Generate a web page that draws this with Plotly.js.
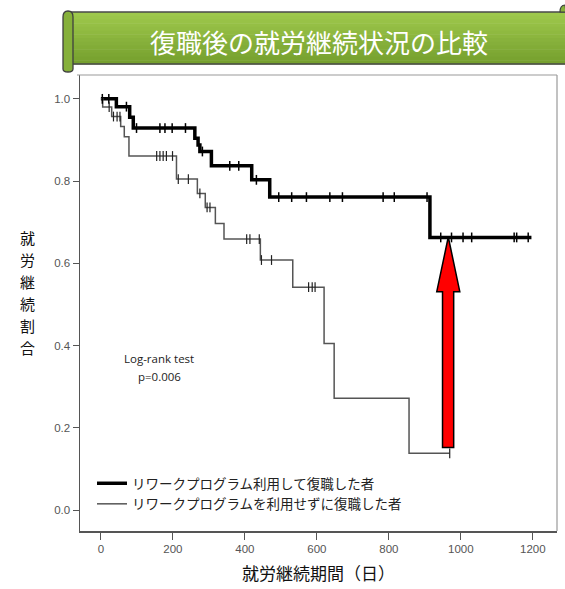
<!DOCTYPE html>
<html><head><meta charset="utf-8">
<script src="https://cdn.plot.ly/plotly-3.0.1.min.js"></script>
<style>html,body{margin:0;padding:0;background:#fff}#chart{width:565px;height:589px}</style>
</head><body><div id="chart"></div>
<script>
const titleText = "復職後の就労継続状況の比較";
const xTitle = "就労継続期間（日）";
const yTitle = "就労継続割合";
const seriesNames = ["リワークプログラム利用して復職した者", "リワークプログラムを利用せずに復職した者"];
const testLabel = "Log-rank test";
const pLabel = "p=0.006";

// Kaplan-Meier steps (day, survival)
const programDays = [0, 43, 80, 90, 261, 270, 275, 307, 419, 469, 914, 1196];
const programSurv = [1.0, 0.981, 0.955, 0.929, 0.904, 0.888, 0.872, 0.837, 0.803, 0.761, 0.663, 0.663];
const programCensorDays = [4, 22, 71, 99, 164, 178, 198, 235, 282, 358, 383, 432, 494, 530, 571, 636, 671, 784, 815, 906, 944, 974, 1006, 1030, 1148, 1155, 1187];

const noProgramDays = [0, 5, 30, 55, 65, 78, 210, 268, 290, 318, 342, 443, 533, 620, 648, 856, 969];
const noProgramSurv = [1.0, 0.98, 0.957, 0.933, 0.908, 0.861, 0.805, 0.77, 0.736, 0.697, 0.659, 0.608, 0.542, 0.405, 0.272, 0.138, 0.138];
const noProgramCensorDays = [23, 35, 45, 53, 155, 164, 173, 182, 199, 215, 243, 275, 295, 303, 405, 414, 440, 446, 474, 577, 587, 595, 969];

const xTicks = [0, 200, 400, 600, 800, 1000, 1200];
const yTicks = [0, 0.2, 0.4, 0.6, 0.8, 1.0];

function stepValue(days, surv, d) {
  let v = surv[0];
  for (let i = 0; i < days.length; i++) { if (days[i] <= d) v = surv[i]; }
  return v;
}

// pixel -> paper helpers for decoration
const L = 80, R = 557, T = 75, B = 531;
const px = p => (p - L) / (R - L);
const py = p => (B - p) / (B - T);

const traces = [
  {x: programDays, y: programSurv, mode: 'lines', line: {shape: 'hv', color: '#000', width: 3.5},
   name: seriesNames[0], hoverinfo: 'skip'},
  {x: noProgramDays, y: noProgramSurv, mode: 'lines', line: {shape: 'hv', color: '#555', width: 1.5},
   name: seriesNames[1], hoverinfo: 'skip'},
  {x: programCensorDays, y: programCensorDays.map(d => stepValue(programDays, programSurv, d)),
   mode: 'markers', showlegend: false, hoverinfo: 'skip',
   marker: {symbol: 'line-ns', size: 7, line: {color: '#000', width: 1.5}}},
  {x: noProgramCensorDays, y: noProgramCensorDays.map(d => stepValue(noProgramDays, noProgramSurv, d)),
   mode: 'markers', showlegend: false, hoverinfo: 'skip',
   marker: {symbol: 'line-ns', size: 7, line: {color: '#222', width: 1.2}}}
];

// banner decoration
const bTop = 12, bBot = 64, bLeft = 68, bRight = 565;
const shapes = [
  {type: 'line', xref: 'paper', yref: 'paper', x0: 1, x1: 1, y0: 0, y1: 1, line: {color: '#999', width: 1.2}},
  {type: 'line', xref: 'paper', yref: 'paper', x0: px(77), x1: 1, y0: 1, y1: 1, line: {color: '#999', width: 1.2}}
];
const nStrips = 14;
const c0 = [158, 200, 76], c1 = [118, 160, 46];
for (let i = 0; i < nStrips; i++) {
  const t = i / (nStrips - 1);
  const c = c0.map((v, k) => Math.round(v + (c1[k] - v) * t));
  const y0 = bTop + (bBot - bTop) * i / nStrips, y1 = bTop + (bBot - bTop) * (i + 1) / nStrips;
  shapes.push({type: 'rect', xref: 'paper', yref: 'paper', x0: px(bLeft), x1: px(bRight), y0: py(y1 + 0.5), y1: py(y0),
    fillcolor: `rgb(${c[0]},${c[1]},${c[2]})`, line: {width: 0}});
}
shapes.push({type: 'path', xref: 'paper', yref: 'paper',
  path: `M ${px(bLeft)} ${py(bTop)} L ${px(bRight + 2)} ${py(bTop)} M ${px(bLeft)} ${py(bBot)} L ${px(bRight + 2)} ${py(bBot)}`,
  line: {color: '#4a4a4a', width: 1.5}});
shapes.push({type: 'path', xref: 'paper', yref: 'paper',
  path: `M ${px(63)} ${py(17)} Q ${px(63)} ${py(11)} ${px(68)} ${py(11)} Q ${px(73)} ${py(11)} ${px(73)} ${py(17)} L ${px(73)} ${py(69)} Q ${px(73)} ${py(72)} ${px(68)} ${py(72)} Q ${px(63)} ${py(72)} ${px(63)} ${py(69)} Z`,
  fillcolor: '#86b03a', line: {color: '#3f3f3f', width: 1.3}});
shapes.push({type: 'path', xref: 'paper', yref: 'paper',
  path: `M ${px(560)} ${py(12)} Q ${px(560)} ${py(5)} ${px(565)} ${py(5)} L ${px(566)} ${py(12)} Z`,
  fillcolor: '#86b03a', line: {color: '#3f3f3f', width: 1.2}});
shapes.push({type: 'path', xref: 'x', yref: 'y',
  path: 'M 949 0.152 L 980 0.152 L 980 0.531 L 997 0.531 L 965 0.664 L 933 0.531 L 949 0.531 Z',
  fillcolor: '#ff0000', line: {color: '#000', width: 1.5}});

const annotations = [
  {xref: 'paper', yref: 'paper', x: px(319), y: py(41), text: titleText, showarrow: false,
   font: {family: 'Noto Sans CJK JP', size: 26, color: '#fff'}, xanchor: 'center', yanchor: 'middle'},
  {xref: 'paper', yref: 'paper', x: px(159), y: py(358), text: testLabel, showarrow: false,
   font: {family: 'Open Sans, sans-serif', size: 11.5, color: '#222'}, xanchor: 'center', yanchor: 'middle'},
  {xref: 'paper', yref: 'paper', x: px(159), y: py(376), text: pLabel, showarrow: false,
   font: {family: 'Open Sans, sans-serif', size: 11.5, color: '#222'}, xanchor: 'center', yanchor: 'middle'}
];
yTitle.split('').forEach((ch, i) => {
  annotations.push({xref: 'paper', yref: 'paper', x: px(27), y: py(238 + i * 21.8), text: ch, showarrow: false,
    font: {family: 'Noto Sans CJK JP', size: 15, color: '#111'}, xanchor: 'center', yanchor: 'middle'});
});

const layout = {
  width: 565, height: 589,
  margin: {l: L, r: 565 - R, t: T, b: 589 - B},
  paper_bgcolor: '#fff', plot_bgcolor: '#fff',
  showlegend: true,
  font: {family: 'Liberation Sans, Arial, sans-serif', color: '#555'},
  xaxis: {
    range: [-58, 1267], tickvals: xTicks, ticktext: xTicks.map(String),
    showgrid: false, zeroline: false, showline: true, linecolor: '#555', linewidth: 1.5,
    ticks: 'outside', ticklen: 7, tickcolor: '#555', tickfont: {size: 11.5, color: '#555'},
    title: {text: xTitle, font: {family: 'Noto Sans CJK JP', size: 17, color: '#111'}, standoff: 14}
  },
  yaxis: {
    range: [-0.051, 1.058], tickvals: yTicks, tickformat: '.1f',
    showgrid: false, zeroline: false, showline: true, linecolor: '#555', linewidth: 1.5,
    ticks: 'outside', ticklen: 6, tickcolor: '#555', tickfont: {size: 11.5, color: '#555'}
  },
  legend: {
    x: px(92), y: py(468), xanchor: 'left', yanchor: 'top',
    bgcolor: 'rgba(0,0,0,0)', font: {family: 'Noto Sans CJK JP', size: 13.5, color: '#222'},
    itemwidth: 30, tracegroupgap: 0
  },
  shapes: shapes,
  annotations: annotations
};

Plotly.newPlot('chart', traces, layout, {displayModeBar: false, staticPlot: true});
</script>
</body></html>
